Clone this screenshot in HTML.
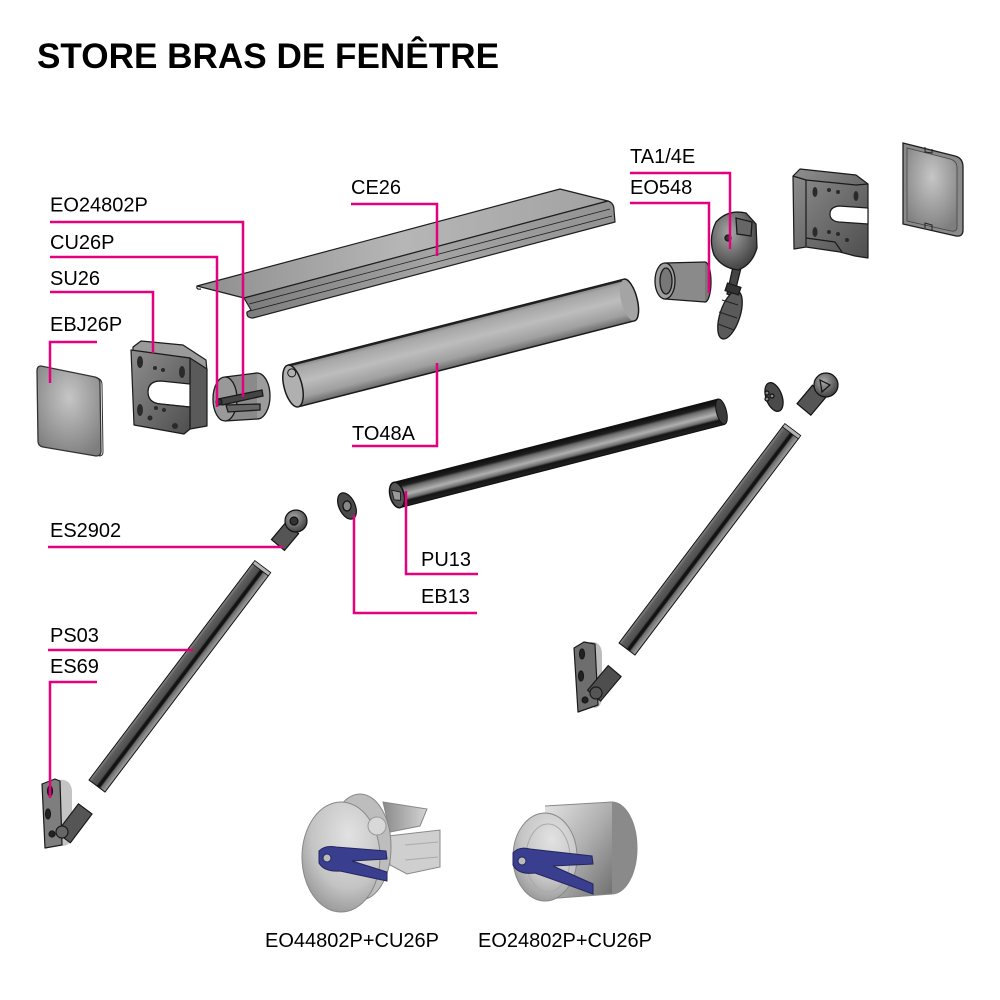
<!DOCTYPE html>
<html><head><meta charset="utf-8"><style>
html,body{margin:0;padding:0;background:#fff;}
svg{display:block;}
text{font-family:"Liberation Sans",Arial,sans-serif;}
</style></head><body>
<svg width="1000" height="1000" viewBox="0 0 1000 1000" xmlns="http://www.w3.org/2000/svg">
<defs>
<linearGradient id="tubeG" x1="0" y1="0" x2="0" y2="1">
<stop offset="0" stop-color="#7e7e7e"/><stop offset=".12" stop-color="#a6a6a6"/><stop offset=".45" stop-color="#bdbdbd"/><stop offset=".8" stop-color="#a0a0a0"/><stop offset="1" stop-color="#6a6a6a"/>
</linearGradient>
<linearGradient id="darkG" x1="0" y1="0" x2="0" y2="1">
<stop offset="0" stop-color="#0d0d0d"/><stop offset=".2" stop-color="#1e1e1e"/><stop offset=".3" stop-color="#6a6a6a"/><stop offset=".55" stop-color="#b0b0b0"/><stop offset=".72" stop-color="#6d6d6d"/><stop offset=".8" stop-color="#151515"/><stop offset="1" stop-color="#222"/>
</linearGradient>
<linearGradient id="barG" x1="0" y1="0" x2="0" y2="1">
<stop offset="0" stop-color="#a4a4a4"/><stop offset=".28" stop-color="#6c6c6c"/><stop offset=".36" stop-color="#111"/><stop offset=".48" stop-color="#141414"/><stop offset=".55" stop-color="#4e4e4e"/><stop offset=".85" stop-color="#5e5e5e"/><stop offset="1" stop-color="#8e8e8e"/>
</linearGradient>
<linearGradient id="ceTop" x1="0" y1="0" x2="1" y2="0">
<stop offset="0" stop-color="#8e8e8e"/><stop offset=".5" stop-color="#b6b6b6"/><stop offset="1" stop-color="#a2a2a2"/>
</linearGradient>
<linearGradient id="ceFront" x1="0" y1="0" x2="1" y2="0">
<stop offset="0" stop-color="#7c7c7c"/><stop offset=".5" stop-color="#a4a4a4"/><stop offset="1" stop-color="#929292"/>
</linearGradient>
<linearGradient id="plateG" x1="0" y1="0" x2="1" y2="1">
<stop offset="0" stop-color="#8e8e8e"/><stop offset="1" stop-color="#4e4e4e"/>
</linearGradient>
<radialGradient id="capG" cx=".5" cy=".35" r=".7">
<stop offset="0" stop-color="#c6c6c6"/><stop offset="1" stop-color="#7e7e7e"/>
</radialGradient>
<radialGradient id="metalG" cx=".4" cy=".35" r=".7">
<stop offset="0" stop-color="#a8a8a8"/><stop offset="1" stop-color="#3c3c3c"/>
</radialGradient>
<radialGradient id="discG" cx=".6" cy=".3" r=".8">
<stop offset="0" stop-color="#e2e2e2"/><stop offset=".6" stop-color="#c4c4c4"/><stop offset="1" stop-color="#8e8e8e"/>
</radialGradient>
<linearGradient id="cylG" x1="0" y1="0" x2="1" y2="1">
<stop offset="0" stop-color="#e4e4e4"/><stop offset=".5" stop-color="#b0b0b0"/><stop offset="1" stop-color="#6e6e6e"/>
</linearGradient>
<linearGradient id="finG" x1="0" y1="0" x2="1" y2="0">
<stop offset="0" stop-color="#8a8a8a"/><stop offset="1" stop-color="#d4d4d4"/>
</linearGradient>
</defs>

<!-- Title -->
<text x="37" y="68" font-size="35" font-weight="bold" fill="#000" textLength="462" lengthAdjust="spacingAndGlyphs">STORE BRAS DE FENÊTRE</text>

<!-- CE26 cover -->
<g stroke="#1e1e1e" stroke-width="1.2" stroke-linejoin="round">
<path d="M197,286 L560,189 L608,201 L244,298 Z" fill="url(#ceTop)"/>
<path d="M244,298 L608,201 Q614,203 614,210 L615,222 L253,318 Q246,318 247,312 L251,310 Z" fill="url(#ceFront)"/>
<path d="M197,286 Q196,290 201,289" fill="none"/>
<path d="M249,304 L610,209" fill="none" stroke-width=".8"/>
<path d="M250,311 L612,216" fill="none" stroke-width=".8"/>
</g>

<!-- TO48A tube -->
<g transform="translate(293,386) rotate(-14.35)">
<rect x="0" y="-21.5" width="347" height="43" fill="url(#tubeG)"/>
<ellipse cx="347" cy="0" rx="8" ry="21.5" fill="#a4a4a4"/>
<path d="M0,-21.5 L347,-21.5 A8,21.5 0 0 1 347,21.5 L0,21.5" fill="none" stroke="#1a1a1a" stroke-width="1.5"/>
<path d="M4,-20.5 L345,-20.5" stroke="#222" stroke-width="1.5"/>
<ellipse cx="0" cy="0" rx="9" ry="21.5" fill="#b0b0b0" stroke="#1a1a1a" stroke-width="1.5"/>
<circle cx="2" cy="-13" r="4" fill="none" stroke="#1a1a1a" stroke-width="1"/>
</g>

<!-- PU13 dark tube -->
<g transform="translate(397,495) rotate(-14.4)">
<rect x="0" y="-13" width="335" height="26" fill="url(#darkG)"/>
<ellipse cx="335" cy="0" rx="5" ry="13" fill="#3a3a3a" stroke="#111" stroke-width="1"/>
<path d="M0,-13 L335,-13 M0,13 L335,13" stroke="#111" stroke-width="1.2"/>
<ellipse cx="0" cy="0" rx="7" ry="13" fill="#555" stroke="#111" stroke-width="1.5"/>
<path d="M-4,-6 L4,-2 L2,6 L-4,4 Z" fill="#999" stroke="#111" stroke-width=".8"/>
</g>

<!-- EBJ26P left cap -->
<path d="M41,366 Q37,366 37,371 L38,441 Q38,446 43,447 L96,456 Q101,456 101,451 L100,383 Q100,378 95,377 Z" fill="url(#capG)" stroke="#333" stroke-width="1.3"/>
<path d="M95,377 L97,378 Q102,379 102,385 L103,452 Q103,456 99,456" fill="none" stroke="#333" stroke-width="1"/>

<!-- SU26 left bracket -->
<g stroke="#1a1a1a" stroke-width="1.2" stroke-linejoin="round">
<path d="M133,347 L141,341 L183,345 L206,360 L207,371 L192,367 L190,358 L133,352 Z" fill="#9a9a9a"/>
<path d="M190,358 L207,369 L207,426 L190,429 Z" fill="#5a5a5a"/>
<path d="M131,350 L190,358 L190,384 L161,381 Q148,381 148,392 Q148,403 161,404 L190,407 L190,429 L184,434 L134,425 Z" fill="url(#plateG)"/>
<path d="M161,381 Q148,381 148,392 Q148,403 161,404 L190,407" fill="none" stroke-width="1"/>
</g>
<g fill="#2a2a2a">
<ellipse cx="140" cy="362" rx="3" ry="6"/><ellipse cx="140" cy="410" rx="3" ry="6"/>
<ellipse cx="182" cy="372" rx="3" ry="6"/>
<circle cx="155" cy="368" r="2"/><circle cx="163" cy="370" r="2"/><circle cx="156" cy="408" r="2"/><circle cx="164" cy="410" r="2"/>
<circle cx="150" cy="418" r="2.5"/><circle cx="175" cy="426" r="3"/>
</g>

<!-- EO24802P left cap -->
<g stroke="#1a1a1a" stroke-width="1.3">
<ellipse cx="257" cy="396" rx="13" ry="23" fill="#9c9c9c"/>
<path d="M225,377 L257,373 L257,419 L225,421 Z" fill="#8a8a8a" stroke="none"/>
<path d="M225,377 L257,373 M225,421 L257,419" fill="none"/>
<ellipse cx="225" cy="399" rx="12" ry="22" fill="#999"/>
<path d="M218,399 L262,390 L263,396 L222,405 Z" fill="#444"/>
<path d="M226,405 L260,404 L260,410 L228,412 Z" fill="#666"/>
<circle cx="219" cy="402" r="3" fill="#333"/>
</g>

<!-- EO548 -->
<g stroke="#1a1a1a" stroke-width="1.3">
<ellipse cx="705" cy="282" rx="6" ry="20" fill="#777"/>
<path d="M665,263 L705,262 L705,302 L665,299 Z" fill="#8a8a8a" stroke="none"/>
<path d="M665,263 L705,262 M665,299 L705,302" fill="none"/>
<ellipse cx="665" cy="281" rx="10" ry="18" fill="#9e9e9e"/>
<ellipse cx="666" cy="281" rx="6" ry="13" fill="#777"/>
</g>

<!-- TA1/4E -->
<g stroke="#1a1a1a" stroke-width="1.3">
<path d="M734,262 L742,264 L734,296 L727,294 Z" fill="#444"/>
<ellipse cx="730" cy="315" rx="10" ry="25" transform="rotate(18 730 315)" fill="#5a5a5a"/>
<path d="M722,300 L738,305 M719,312 L737,318 M718,324 L734,330" stroke="#222" stroke-width="1" fill="none"/>
<rect x="726" y="285" width="14" height="8" transform="rotate(18 733 289)" fill="#333"/>
<path d="M716,222 Q728,209 746,213 L756,224 L757,248 Q752,265 738,270 Q722,268 714,255 Q708,238 716,222 Z" fill="url(#metalG)"/>
<path d="M736,218 L752,222 L751,236 L737,234 Z" fill="#666"/>
<circle cx="728" cy="238" r="3" fill="#333"/>
</g>

<!-- SU26 right bracket -->
<g stroke="#1a1a1a" stroke-width="1.2" stroke-linejoin="round">
<path d="M793,176 L800,169 L856,175 L868,184 L868,258 L855,256 L840,252 L806,247 L794,249 Z" fill="url(#plateG)"/>
<path d="M868,208 L839,206 Q830,207 830,214 Q830,221 839,222 L868,224 Z" fill="#fff"/>
<path d="M793,176 L806,180 L806,246 M806,180 L856,185 L868,184" fill="none"/>
<path d="M806,238 L835,242 L842,252" fill="none"/>
</g>
<g fill="#2a2a2a">
<ellipse cx="815" cy="192" rx="2.5" ry="5"/><ellipse cx="815" cy="232" rx="2.5" ry="5"/><ellipse cx="856" cy="196" rx="2.5" ry="5"/>
<circle cx="829" cy="190" r="2"/><circle cx="838" cy="192" r="2"/><circle cx="829" cy="232" r="2"/><circle cx="838" cy="234" r="2"/><circle cx="847" cy="240" r="2"/>
</g>

<!-- EBJ26P right cap -->
<path d="M903,143 L955,156 Q963,158 963,167 L963,230 Q963,237 956,236 L903,224 Z" fill="#8a8a8a" stroke="#1e1e1e" stroke-width="1.3"/>
<path d="M907,148 L950,159 Q957,161 957,168 L957,227 Q957,232 951,231 L907,221 Z" fill="url(#capG)" stroke="#444" stroke-width=".8"/>
<path d="M925,147 L925,152 L932,153 L932,149 M925,228 L925,223 L932,225 L932,230" fill="none" stroke="#222" stroke-width="1"/>

<!-- PS03 left bar -->
<g transform="translate(261,569) rotate(127.08)">
<rect x="0" y="-10" width="272" height="20" fill="url(#barG)" stroke="#111" stroke-width="1"/>
<rect x="-3" y="-10" width="4" height="20" fill="#b4b4b4" stroke="#111" stroke-width=".8"/>
</g>

<!-- PS03 right bar -->
<g transform="translate(791,432) rotate(127.08)">
<rect x="0" y="-10" width="272" height="20" fill="url(#barG)" stroke="#111" stroke-width="1"/>
<rect x="-3" y="-10" width="4" height="20" fill="#b4b4b4" stroke="#111" stroke-width=".8"/>
</g>

<!-- ES2902 left -->
<g stroke="#111" stroke-width="1.2">
<rect x="-10" y="-8" width="22" height="17" transform="translate(284,537) rotate(-50)" fill="#555"/>
<circle cx="296" cy="521" r="11" fill="url(#metalG)"/>
<circle cx="294" cy="521" r="4" fill="#333"/>
</g>

<!-- EB13 left -->
<g stroke="#111" stroke-width="1.2">
<ellipse cx="347" cy="506" rx="8" ry="14" transform="rotate(-25 347 506)" fill="#4a4a4a"/>
<ellipse cx="347" cy="506" rx="4" ry="5" fill="#888"/>
</g>

<!-- EB13 right -->
<g stroke="#111" stroke-width="1.2">
<ellipse cx="774" cy="397" rx="8" ry="15" transform="rotate(-20 774 397)" fill="#4a4a4a"/>
<circle cx="767" cy="393" r="2" fill="#888"/><circle cx="767" cy="399" r="2" fill="#888"/><circle cx="772" cy="396" r="2" fill="#888"/>
</g>

<!-- ES2902 right -->
<g stroke="#111" stroke-width="1.2">
<rect x="-11" y="-9" width="24" height="18" transform="translate(811,401) rotate(-50)" fill="#555"/>
<circle cx="826" cy="385" r="12" fill="url(#metalG)"/>
<path d="M820,380 L830,385 L822,392 Z" fill="none"/>
</g>

<!-- ES69 left -->
<g stroke="#1a1a1a" stroke-width="1.2" stroke-linejoin="round">
<path d="M58,780 Q70,778 72,790 L72,838 Q70,846 62,846 Z" fill="#c4c4c4" stroke="none"/>
<path d="M42,784 L55,779 L60,781 L62,845 L45,848 Z" fill="#7e7e7e"/>
<ellipse cx="50" cy="791" rx="2.5" ry="5" fill="#222"/><ellipse cx="48" cy="814" rx="2.5" ry="5" fill="#222"/><circle cx="52" cy="834" r="3" fill="#222"/>
<rect x="-18" y="-8" width="36" height="17" transform="translate(74,823) rotate(-53)" fill="#555"/>
<circle cx="62" cy="832" r="6" fill="#666"/>
</g>

<!-- ES69 right -->
<g stroke="#1a1a1a" stroke-width="1.2" stroke-linejoin="round">
<path d="M590,642 Q602,641 602,655 L602,700 Q600,708 594,708 Z" fill="#bcbcbc" stroke="none"/>
<path d="M574,648 L584,642 L595,644 L598,705 L578,712 Z" fill="#6e6e6e"/>
<ellipse cx="582" cy="654" rx="2.5" ry="5" fill="#222"/><ellipse cx="581" cy="676" rx="2.5" ry="5" fill="#222"/><circle cx="585" cy="700" r="3" fill="#222"/>
<rect x="-16" y="-8" width="32" height="17" transform="translate(604,683) rotate(-50)" fill="#4e4e4e"/>
<circle cx="596" cy="693" r="6" fill="#555"/>
</g>

<!-- EO44802P+CU26P -->
<g stroke="#888" stroke-width="1">
<path d="M383,802 L427,809 L420,826 L390,832 Z" fill="url(#finG)"/>
<path d="M388,836 L440,830 L440,867 L407,874 L390,865 Z" fill="#cfcfcf"/>
<path d="M405,845 L438,842 M405,860 L438,857" stroke="#aaa" fill="none"/>
<ellipse cx="360" cy="847" rx="31" ry="53" fill="#bdbdbd"/>
<ellipse cx="341" cy="857" rx="39" ry="55" fill="url(#discG)"/>
<circle cx="377" cy="826" r="9" fill="#d8d8d8" stroke="#999"/>
</g>
<path d="M319,851 Q325,845 336,847 L386,851 L387,859 L352,861 L387,872 L387,881 L340,871 Q324,872 319,863 Z" fill="#3a3e8e" stroke="#24275e" stroke-width="1"/>
<circle cx="327" cy="858" r="4" fill="#bbb" stroke="#24275e" stroke-width="1"/>

<!-- EO24802P+CU26P -->
<g stroke="#888" stroke-width="1">
<ellipse cx="612" cy="848" rx="25" ry="46" fill="#8a8a8a"/>
<path d="M545,806 L612,802 L612,894 L545,899 Z" fill="url(#cylG)" stroke="none"/>
<path d="M545,806 L612,802 M545,899 L612,894" fill="none"/>
<ellipse cx="545" cy="857" rx="32" ry="44" fill="url(#discG)"/>
<ellipse cx="548" cy="858" rx="22" ry="34" fill="none" stroke="#aaa"/>
</g>
<path d="M513,853 Q519,846 530,849 L592,856 L593,864 L553,866 L593,884 L593,894 L535,873 Q518,875 513,865 Z" fill="#3a3e8e" stroke="#24275e" stroke-width="1"/>
<circle cx="522" cy="861" r="4" fill="#bbb" stroke="#24275e" stroke-width="1"/>

<!-- Leader lines -->
<g stroke="#e5007e" stroke-width="2.5" fill="none" stroke-linejoin="miter">
<polyline points="50,222 243,222 243,397"/>
<polyline points="50,257 217,257 217,407"/>
<polyline points="50,292 153,292 153,353"/>
<polyline points="97,342 50,342 50,383"/>
<polyline points="351,204 437,204 437,256"/>
<polyline points="352,446 437,446 437,363"/>
<polyline points="630,173 730,173 730,249"/>
<polyline points="630,203 709,203 709,293"/>
<polyline points="48,547 283,547"/>
<polyline points="48,650 193,650"/>
<polyline points="97,682 50,682 50,798"/>
<polyline points="478,574 406,574 406,491"/>
<polyline points="477,613 354,613 354,515"/>
</g>

<!-- Labels -->
<g font-size="20" fill="#000">
<text x="50" y="211.5">EO24802P</text>
<text x="50" y="249">CU26P</text>
<text x="50" y="285">SU26</text>
<text x="50" y="331">EBJ26P</text>
<text x="351" y="194">CE26</text>
<text x="352" y="440">TO48A</text>
<text x="630" y="163">TA1/4E</text>
<text x="630" y="194">EO548</text>
<text x="50" y="537">ES2902</text>
<text x="50" y="642">PS03</text>
<text x="50" y="673">ES69</text>
<text x="421" y="566">PU13</text>
<text x="421" y="603">EB13</text>
<text x="265" y="947">EO44802P+CU26P</text>
<text x="478" y="947">EO24802P+CU26P</text>
</g>
</svg>
</body></html>
